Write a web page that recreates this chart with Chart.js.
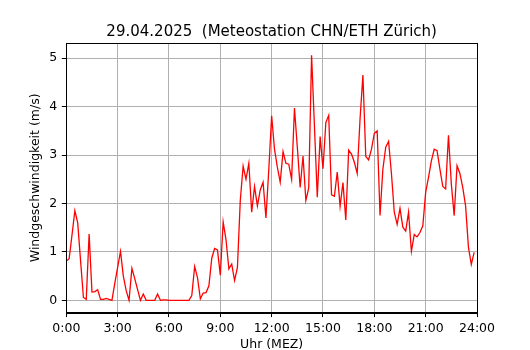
<!DOCTYPE html>
<html>
<head>
<meta charset="utf-8">
<script src="https://cdn.jsdelivr.net/npm/chart.js@4.4.1/dist/chart.umd.min.js"></script>
<style>
  body { margin: 0; background: #fff; }
  #wrap { width: 530px; height: 350px; }
</style>
</head>
<body>
<div id="wrap"><canvas id="canvas"></canvas></div>
<script>
const chartTitle = "29.04.2025  (Meteostation CHN/ETH Zürich)";

// 10-Minuten-Werte ab 0:00 (m/s)
const windSpeed = [
  0.81, 0.86, 1.35, 1.85, 1.60, 0.82, 0.06, 0.02, 1.37, 0.17, 0.18, 0.22,
  0.02, 0.02, 0.04, 0.02, 0.00, 0.35, 0.68, 1.01, 0.50, 0.20, 0.00, 0.66,
  0.45, 0.22, 0.00, 0.13, 0.00, 0.00, 0.00, 0.00, 0.13, 0.00, 0.01, 0.01,
  0.00, 0.00, 0.00, 0.00, 0.00, 0.00, 0.00, 0.00, 0.10, 0.70, 0.47, 0.03,
  0.15, 0.16, 0.30, 0.87, 1.07, 1.04, 0.52, 1.62, 1.25, 0.65, 0.75, 0.41,
  0.68, 2.06, 2.77, 2.50, 2.83, 1.82, 2.35, 1.95, 2.28, 2.44, 1.70, 2.70,
  3.81, 3.12, 2.75, 2.44, 3.07, 2.83, 2.81, 2.50, 3.97, 3.16, 2.33, 2.98,
  2.06, 2.32, 5.06, 3.60, 2.13, 3.38, 2.72, 3.67, 3.82, 2.18, 2.15, 2.65,
  1.94, 2.43, 1.66, 3.10, 3.02, 2.85, 2.62, 3.75, 4.65, 2.97, 2.90, 3.12,
  3.45, 3.50, 1.75, 2.71, 3.16, 3.28, 2.62, 1.82, 1.57, 1.90, 1.51, 1.43,
  1.82, 1.01, 1.36, 1.31, 1.40, 1.54, 2.23, 2.54, 2.88, 3.12, 3.09, 2.71,
  2.35, 2.30, 3.41, 2.40, 1.75, 2.78, 2.62, 2.33, 1.95, 1.10, 0.74, 0.99
];
const minutesPerStep = 10;

const xTickValues = [0, 180, 360, 540, 720, 900, 1080, 1260, 1440];
const xTickLabels = ["0:00", "3:00", "6:00", "9:00", "12:00", "15:00", "18:00", "21:00", "24:00"];

const points = windSpeed.map((v, i) => ({ x: i * minutesPerStep, y: v }));

// matplotlib-artige Grenzen (5 % Rand)
const yMaxData = Math.max(...windSpeed);
const yPad = yMaxData * 0.05;

const font = "'DejaVu Sans', sans-serif";

// Rahmen rundum + Titel über der Achsenmitte
const frame = {
  id: "frame",
  afterDraw(chart) {
    const { ctx, chartArea: a } = chart;
    ctx.save();
    ctx.strokeStyle = "#000";
    ctx.lineWidth = 1;
    ctx.strokeRect(Math.round(a.left) + 0.5, Math.round(a.top) + 0.5,
      Math.round(a.right - a.left), Math.round(a.bottom - a.top));
    ctx.fillStyle = "#000";
    ctx.font = "15px " + font;
    ctx.textAlign = "center";
    ctx.textBaseline = "alphabetic";
    ctx.fillText(chartTitle, (a.left + a.right) / 2, a.top - 7.5);
    ctx.restore();
  },
};

const ctx = document.getElementById("canvas");

new Chart(ctx, {
  type: "line",
  data: {
    datasets: [
      {
        data: points,
        borderColor: "#ff0000",
        borderWidth: 1.3,
        pointRadius: 0,
        tension: 0,
        fill: false,
      },
    ],
  },
  options: {
    responsive: true,
    maintainAspectRatio: false,
    animation: false,
    layout: { padding: { left: 0, right: 53, top: 43, bottom: 0 } },
    plugins: {
      legend: { display: false },
      tooltip: { enabled: false },
      title: { display: false },
    },
    scales: {
      x: {
        type: "linear",
        min: 0,
        max: 1440,
        afterFit: (s) => { s.height = 37.4; },
        afterBuildTicks: (s) => { s.ticks = xTickValues.map((v) => ({ value: v })); },
        ticks: {
          autoSkip: false,
          maxRotation: 0,
          color: "#000",
          padding: 4,
          font: { family: font, size: 12.5 },
          callback: (v) => xTickLabels[xTickValues.indexOf(v)],
        },
        grid: { color: "#b0b0b0", lineWidth: 1, tickColor: "#000", tickLength: 4.5 },
        border: { color: "#000", width: 1 },
        title: {
          display: true,
          text: "Uhr (MEZ)",
          color: "#000",
          font: { family: font, size: 12.5, lineHeight: 0.8 },
          padding: { top: 0, bottom: 0 },
        },
      },
      y: {
        min: -yPad,
        max: yMaxData + yPad,
        afterFit: (s) => { s.width = 66.3; },
        ticks: {
          stepSize: 1,
          includeBounds: false,
          color: "#000",
          padding: 4.5,
          font: { family: font, size: 12.5 },
        },
        grid: { color: "#b0b0b0", lineWidth: 1, tickColor: "#000", tickLength: 4.5 },
        border: { color: "#000", width: 1 },
        title: {
          display: true,
          text: "Windgeschwindigkeit (m/s)",
          color: "#000",
          font: { family: font, size: 12.5, lineHeight: 1.2 },
          padding: { top: 28, bottom: 0 },
        },
      },
    },
  },
  plugins: [frame],
});
</script>
</body>
</html>
